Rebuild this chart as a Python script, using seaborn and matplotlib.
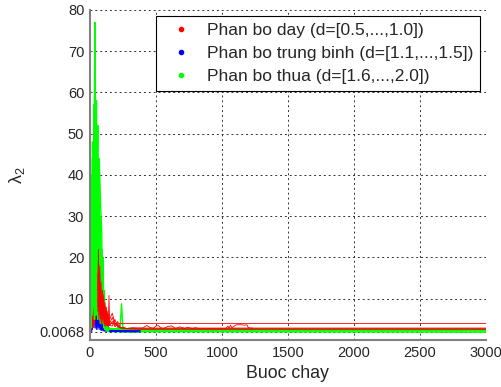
import numpy as np
import pandas as pd
import matplotlib
matplotlib.use("Agg")
import matplotlib.pyplot as plt
from matplotlib.lines import Line2D
import seaborn as sns

# ---- data ----
early_steps = list(range(0, 155, 5))            # 0 .. 150
mid_steps = [170, 190, 210, 230, 240, 250, 280, 320, 380]

green_early = [
    [8, 22, 6, 30, 12, 45, 18, 62, 77, 30, 58, 20, 44, 15, 38, 10, 28, 8, 20, 6, 14, 4, 9, 3.5, 6, 3, 4, 2.8, 3.2, 2.6, 2.7],
    [15, 5, 35, 12, 48, 20, 57, 25, 50, 18, 52, 14, 40, 22, 32, 8, 30, 12, 18, 5, 11, 6, 7, 3, 4.5, 2.5, 3, 2.3, 2.6, 2.2, 2.4],
    [20, 10, 28, 8, 38, 14, 42, 10, 46, 22, 40, 30, 52, 12, 44, 40, 34, 30, 26, 10, 20, 8, 12, 5, 7, 3.5, 4, 2.8, 3, 2.5, 2.6],
    [34, 4, 40, 6, 44, 8, 36, 5, 40, 12, 30, 6, 26, 9, 22, 5, 16, 7, 22, 4, 10, 3, 6, 2.5, 3.5, 2.2, 2.8, 2.1, 2.4, 2.0, 2.2],
    [6, 18, 3, 25, 7, 32, 10, 28, 6, 35, 9, 26, 5, 30, 8, 20, 4, 18, 6, 15, 4, 12, 3, 8, 2.8, 5, 2.6, 3.5, 2.4, 3, 2.5],
]
green_mid = [
    [2.8, 2.7, 2.9, 2.7, 2.8, 2.7, 2.7, 2.8, 2.7],
    [2.3, 2.4, 2.2, 2.3, 2.3, 2.2, 2.2, 2.3, 2.2],
    [2.5, 2.6, 2.5, 2.5, 2.4, 2.5, 2.5, 2.4, 2.5],
    [2.0, 2.1, 2.0, 2.0, 1.9, 2.0, 2.0, 1.9, 2.0],
    [2.6, 2.5, 2.8, 3.5, 8.8, 3.0, 2.6, 2.5, 2.5],
]
green_tail = [2.7, 2.2, 2.5, 1.9, 2.4]

red_early = [
    [5, 12, 4, 18, 8, 24, 10, 28, 14, 34, 16, 25, 12, 20, 8, 16, 7, 12, 6, 11, 5, 9, 4.5, 8, 4, 6, 3.8, 5, 4.2, 4.5, 4],
    [3, 8, 2.5, 10, 4, 14, 6, 16, 5, 18, 7, 21, 9, 22, 10, 18, 6, 14, 5, 12, 4, 10, 3.5, 7, 3.2, 6, 3.5, 5, 3.2, 10.8, 3.5],
    [2, 6, 3, 9, 4, 7, 3, 10, 5, 12, 6, 14, 8, 12, 6, 11, 5, 10, 6, 12, 5, 11, 4, 9, 5, 8, 4, 7, 3.5, 6, 4],
    [4, 2, 7, 3, 11, 5, 13, 4, 9, 6, 12, 5, 16, 7, 13, 9, 11, 4, 9, 7, 10, 5, 8, 4, 7, 4.5, 6, 3.5, 5, 4, 5],
    [3, 5, 2.5, 6, 3, 8, 4, 9, 5, 11, 6, 12, 7, 10, 5, 12, 6, 9, 4, 8, 6, 9, 4, 7, 5, 6, 3.5, 5.5, 4, 5, 3.5],
]
red_mid = [
    [4.0, 4.0, 4.0, 4.0, 4.0, 4.0, 4.0, 4.0, 4.0],
    [3.4, 5.0, 3.2, 3.0, 2.9, 3.1, 2.8, 3.0, 2.9],
    [5.5, 3.5, 4.5, 3.2, 3.0, 2.9, 2.8, 2.8, 2.9],
    [6.5, 4.0, 3.5, 3.0, 2.9, 2.8, 2.7, 2.7, 2.6],
    [4.5, 3.2, 3.8, 3.0, 2.8, 2.9, 2.8, 2.7, 2.7],
]
red_tail = [4.0, None, 2.9, 2.6, 2.7]

# the one red run that wiggles and stops near step 1230
wiggle_steps = [400, 430, 460, 480, 500, 520, 540, 560, 590, 620, 650, 680, 700, 720, 740,
                760, 780, 800, 830, 860, 900, 950, 1000, 1030, 1045, 1055, 1065, 1075, 1090,
                1110, 1130, 1150, 1170, 1190, 1200, 1215, 1230]
wiggle_vals = [2.9, 3.5, 3.0, 2.8, 3.4, 3.5, 2.9, 2.8, 3.3, 3.4, 2.8, 3.2, 3.0, 2.8, 3.1,
               2.9, 2.8, 3.0, 2.7, 2.7, 2.7, 2.7, 2.7, 2.8, 3.4, 2.9, 3.6, 3.0, 3.3,
               3.7, 3.7, 3.7, 3.6, 3.7, 3.0, 2.9, 2.9]

blue_early = [
    [12, 3, 10, 2, 8, 4, 14, 5, 18, 6, 25, 10, 42, 8, 15, 5, 9, 4, 6, 3, 4, 2.5, 3, 2.3, 2.6, 2.2, 2.4, 2.2, 2.3, 2.2, 2.3],
    [6, 11, 2, 8, 3, 12, 4, 9, 3, 7, 2.5, 6, 3, 8, 2.5, 5, 2.4, 4, 2.3, 3.5, 2.2, 3, 2.1, 2.5, 2.1, 2.3, 2.0, 2.2, 2.0, 2.1, 2.0],
    [2, 9, 4, 13, 2.5, 7, 3, 11, 2.8, 6, 3, 9, 2.6, 5, 3, 7, 2.5, 4, 2.3, 3, 2.4, 2.2, 2.5, 2.2, 2.4, 2.3, 2.2, 2.3, 2.2, 2.3, 2.2],
]
blue_mid = [
    [2.3, 2.2, 2.3, 2.2, 2.2, 2.3, 2.2, 2.2, 2.2],
    [2.1, 2.0, 2.1, 2.0, 2.0, 2.0, 2.0, 2.0, 2.0],
    [2.3, 2.2, 2.3, 2.2, 2.3, 2.2, 2.3, 2.2, 2.2],
]

labels = ["Phan bo day (d=[0.5,...,1.0])",
          "Phan bo trung binh (d=[1.1,...,1.5])",
          "Phan bo thua (d=[1.6,...,2.0])"]
colors = ["#ff0000", "#0000ff", "#00ff00"]
y_ticks = [2, 10, 20, 30, 40, 50, 60, 70, 80]
y_tick_labels = ["0.0068", "10", "20", "30", "40", "50", "60", "70", "80"]
x_ticks = [0, 500, 1000, 1500, 2000, 2500, 3000]


def build(group, early, mid, tails, extra=None):
    rows = []
    for i, (e, m) in enumerate(zip(early, mid)):
        steps = early_steps + mid_steps
        vals = e + m
        if tails is not None and tails[i] is not None:
            steps = steps + [3000]
            vals = vals + [tails[i]]
        elif extra is not None:
            steps = steps + extra[0]
            vals = vals + extra[1]
        for s, v in zip(steps, vals):
            rows.append({"step": s, "value": v, "run": f"{group}{i}", "group": group})
    return pd.DataFrame(rows)


green_df = build("g", green_early, green_mid, green_tail)
red_df = build("r", red_early, red_mid, red_tail, extra=(wiggle_steps, wiggle_vals))
blue_df = build("b", blue_early, blue_mid, None)

sns.set_style("white")
plt.rcParams["font.family"] = ["Liberation Sans", "DejaVu Sans"]
plt.rcParams["mathtext.fontset"] = "custom"
plt.rcParams["mathtext.rm"] = "Liberation Sans"
plt.rcParams["mathtext.it"] = "Liberation Sans"

fig = plt.figure(figsize=(5.02, 3.87), dpi=100)
ax = fig.add_axes([0.179, 0.1214, 0.789, 0.853])

kw = dict(x="step", y="value", units="run", estimator=None, sort=False, legend=False, ax=ax)
# early parts of blue and red sit under the green mass, the rest lies on top
sns.lineplot(data=blue_df[blue_df.step <= 150], color=colors[1], lw=0.6, zorder=1, **kw)
sns.lineplot(data=red_df[red_df.step <= 60], color=colors[0], lw=0.6, zorder=1.5, **kw)
sns.lineplot(data=green_df, color=colors[2], lw=1.0, zorder=2, **kw)
sns.lineplot(data=blue_df[blue_df.step >= 150], color=colors[1], lw=0.8, zorder=3, **kw)
sns.lineplot(data=red_df[red_df.step >= 60], color=colors[0], lw=0.6, zorder=4, **kw)

ax.set_xlim(0, 3000)
ax.set_ylim(0, 80)
ax.set_xticks(x_ticks)
ax.set_yticks(y_ticks)
ax.set_yticklabels(y_tick_labels)
ax.tick_params(direction="in", length=3, labelsize=10.5, color="#555555", pad=4)
ax.grid(True, color="#333333", linestyle=(0, (2, 3)), linewidth=0.7)
ax.set_axisbelow(True)
for side in ["top", "right"]:
    ax.spines[side].set_visible(False)
for side in ["left", "bottom"]:
    ax.spines[side].set_color("#808080")
    ax.spines[side].set_linewidth(1.5)

ax.set_xlabel("Buoc chay", fontsize=12.8, labelpad=4)
ax.set_ylabel(r"$\mathrm{\lambda}_2$", fontsize=13, labelpad=9)

handles = [Line2D([], [], marker=".", ls="none", color=c, markersize=6) for c in colors]
leg = ax.legend(handles, labels, loc="upper right", bbox_to_anchor=(0.985, 0.982),
                borderaxespad=0, fontsize=12.5, handletextpad=0.5, fancybox=False,
                framealpha=1, edgecolor="black", labelspacing=0.45)
leg.get_frame().set_linewidth(0.8)
leg.set_zorder(10)

fig.savefig("out.png", dpi=100)
